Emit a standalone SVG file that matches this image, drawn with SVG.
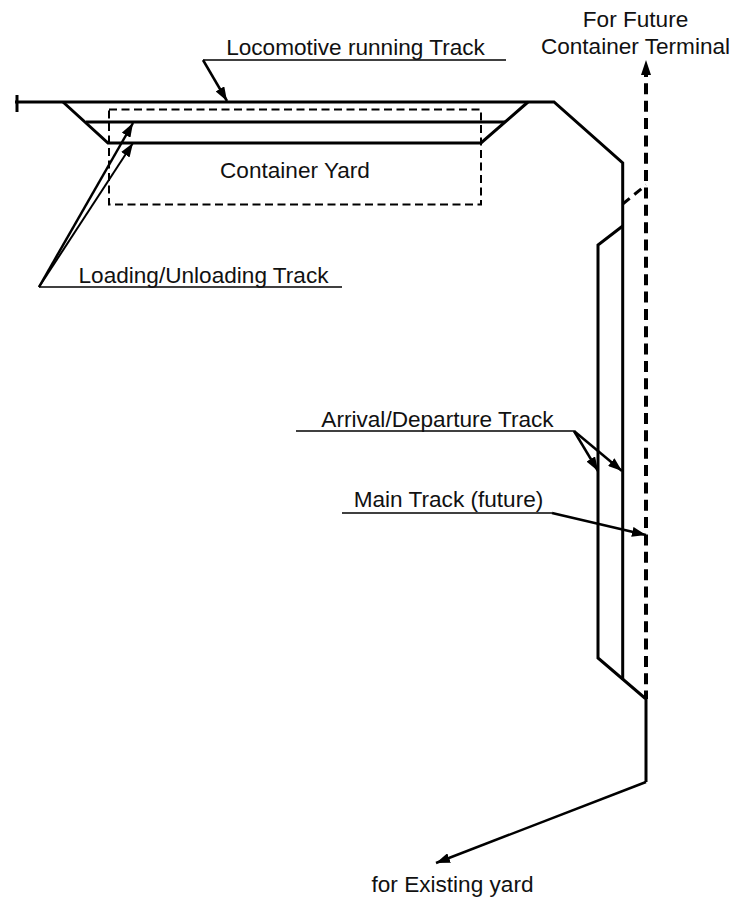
<svg xmlns="http://www.w3.org/2000/svg" width="734" height="900" viewBox="0 0 734 900">
<style>
text{font-family:"Liberation Sans",Arial,sans-serif;font-size:22.600px;fill:#111}
.t{fill:none;stroke:#000;stroke-width:3;stroke-linejoin:miter}
.d{fill:none;stroke:#000;stroke-width:4;stroke-dasharray:11 6.350}
.l{fill:none;stroke:#000;stroke-width:1.5}
.a{fill:none;stroke:#000;stroke-width:2.5}
.r{fill:none;stroke:#000;stroke-width:2;stroke-dasharray:8 4.5}
</style>
<defs>
<marker id="h" markerUnits="userSpaceOnUse" markerWidth="16" markerHeight="10" refX="14" refY="5" orient="auto"><path d="M0 0L14 5L0 10z" fill="#000"/></marker>
</defs>
<g id="connectors">
<path class="t" d="M15 102H554L622.700 163V680"/>
<path class="t" d="M17 95V112"/>
<path class="t" d="M63 102L108 143H481L528 102"/>
<path class="t" d="M86 122H505"/>
<path class="t" d="M622.700 226L598 245V658L646 699V782"/>
<path class="t" d="M646 782L436 863" style="stroke-width:2.500" marker-end="url(#h)"/>
<path class="d" d="M646 66V699"/>
<path d="M646 60L651 75H641z" fill="#000"/>
<path d="M622.700 204L646 185" fill="none" stroke="#000" stroke-width="3" stroke-dasharray="9 6"/>
<path class="l" d="M506 60H203"/>
<path class="a" d="M203 60L227 101" marker-end="url(#h)"/>
<path class="l" d="M342 287H39"/>
<path class="a" d="M39 287L133 123" marker-end="url(#h)"/>
<path class="a" d="M39 287L133 143" style="stroke-width:2" marker-end="url(#h)"/>
<path class="l" d="M296 431H574"/>
<path class="a" d="M574 431L598 471" marker-end="url(#h)"/>
<path class="a" d="M574 431L622 471" marker-end="url(#h)"/>
<path class="l" d="M342 513H552"/>
<path class="a" d="M552 513L646 535" marker-end="url(#h)"/>
</g>
<g id="container-yard"><rect class="r" x="109" y="109.500" width="372" height="95"/><text x="295" y="177.500" text-anchor="middle">Container Yard</text></g>
<g id="label-locomotive"><text x="355.500" y="55" text-anchor="middle">Locomotive running Track</text></g>
<g id="label-loading"><text x="203.500" y="283" text-anchor="middle">Loading/Unloading Track</text></g>
<g id="label-arrival"><text x="437.500" y="426.500" text-anchor="middle">Arrival/Departure Track</text></g>
<g id="label-main"><text x="448.500" y="507" text-anchor="middle">Main Track (future)</text></g>
<g id="label-future"><text x="635.500" y="26.500" text-anchor="middle">For Future</text><text x="635.500" y="54" text-anchor="middle">Container Terminal</text></g>
<g id="label-existing"><text x="452.500" y="891.500" text-anchor="middle">for Existing yard</text></g>
</svg>
